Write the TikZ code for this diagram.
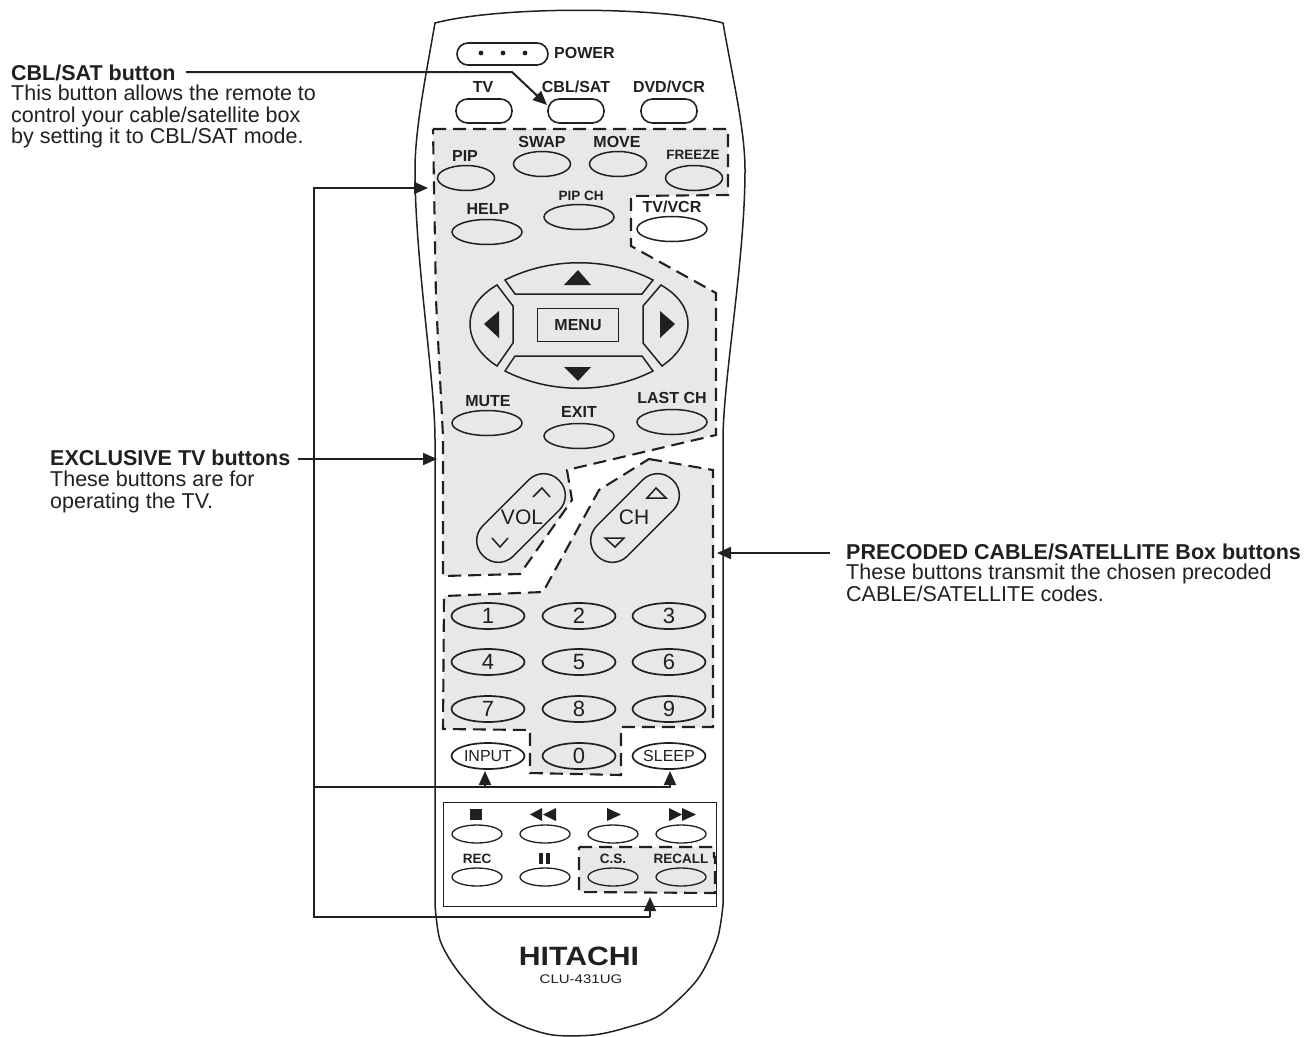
\documentclass[tikz,border=0pt]{standalone}
\usepackage{fontspec}
\setmainfont{Liberation Sans}
\usetikzlibrary{arrows.meta,shapes.geometric}
\definecolor{zonegrey}{HTML}{E7E8E9}
\definecolor{inkblack}{HTML}{231F20}

\begin{document}
\begin{tikzpicture}[
  x=1pt, y=-1pt, color=inkblack,
  zone/.style={fill=zonegrey},
  zoneline/.style={line width=2.1pt, dash pattern=on 13pt off 7pt},
  btn/.style={ellipse, draw, line width=1.5pt, inner sep=0pt, minimum width=70pt, minimum height=25pt},
  smallbtn/.style={btn, line width=1.3pt, minimum width=50pt, minimum height=18pt},
  numbtn/.style={btn, line width=1.7pt, minimum width=73pt, minimum height=26pt, font=\fontsize{22}{22}\selectfont},
  wordbtn/.style={numbtn, font=\fontsize{16}{16}\selectfont},
  topbtn/.style={rectangle, draw, line width=1.6pt, rounded corners=11.5pt, minimum width=56pt, minimum height=24pt, inner sep=0pt},
  stickbtn/.style={rectangle, draw, line width=1.5pt, rounded corners=21pt, minimum width=107pt, minimum height=43pt, rotate=45},
  lbl/.style={font=\fontsize{16}{16}\selectfont\bfseries, inner sep=0pt},
  tinylbl/.style={font=\fontsize{13.5}{13.5}\selectfont\bfseries, inner sep=0pt},
  sticklbl/.style={font=\fontsize{21}{21}\selectfont, inner sep=0pt},
  heading/.style={font=\fontsize{21.5}{21.5}\selectfont\bfseries, inner sep=0pt, anchor=base west},
  para/.style={font=\fontsize{21.5}{21.5}\selectfont, inner sep=0pt, anchor=north west, align=left},
  arr/.style={line width=2pt, -{Triangle[length=14pt,width=12pt]}},
  glyph/.style={fill, draw=none},
  outl/.style={line width=1.5pt},
]
\useasboundingbox (0,0) rectangle (1316,1036);

% Remote body
\draw[line width=1.5pt] (435,23) .. controls (500,6) and (658,6) .. (723,23)
  .. controls (733,80) and (745,130) .. (745,170)
  .. controls (745,260) and (723,380) .. (723,440) -- (723,905)
  -- plot[smooth] coordinates {(723,905) (717,940) (697,980) (660,1015) (625,1028) (593,1035) (553,1035) (520,1025) (490,1007) (457,970) (440,940) (435,905)}
  -- (435,440) .. controls (435,380) and (415,260) .. (415,170)
  .. controls (415,130) and (425,80) .. (435,23) -- cycle;

% Shaded zones
\fill[zone] (433,129) -- (728,129) -- (728,195) -- (631,196) -- (631,246) -- (716,293) -- (716,435)
  -- (567,470) -- (572,500) -- (520,574) -- (443,576) -- (443,437) -- (436,300) -- cycle;
\fill[zone] (649,459) -- (713,470) -- (713,727) -- (621,727) -- (621,775) -- (530,773) -- (530,730)
  -- (443,729) -- (444,596) -- (543,592) -- (599,490) -- cycle;
\fill[zone] (579,847) -- (714,847) -- (715,893) -- (579,892) -- cycle;
\draw[zoneline] (433,129) -- (728,129) -- (728,195) -- (631,196) -- (631,246) -- (716,293) -- (716,435)
  -- (567,470) -- (572,500) -- (520,574) -- (443,576) -- (443,437) -- (436,300) -- cycle;
\draw[zoneline] (649,459) -- (713,470) -- (713,727) -- (621,727) -- (621,775) -- (530,773) -- (530,730)
  -- (443,729) -- (444,596) -- (543,592) -- (599,490) -- cycle;
\draw[zoneline] (579,847) -- (714,847) -- (714,857) -- (715,857) -- (715,893) -- (579,892) -- cycle;

% Top row
\node[rectangle, draw, line width=1.6pt, rounded corners=11pt, minimum width=91pt, minimum height=22pt, inner sep=0pt] (powerbtn) at (502.5,54) {};
\foreach \x in {481,503,525} \fill (\x,53) circle (2.4pt);
\node[lbl, anchor=west] (powerlbl) at (554,53) {POWER};
\node[lbl] (tvlbl) at (483,87) {TV};
\node[lbl] (cbllbl) at (576,87) {CBL/SAT};
\node[lbl] (dvdlbl) at (669,87) {DVD/VCR};
\node[topbtn] (tvbtn) at (484,111) {};
\node[topbtn] (cblbtn) at (576,111) {};
\node[topbtn] (dvdbtn) at (669,111) {};

% Upper buttons
\node[btn, minimum width=57pt] (pipbtn) at (466,178) {};
\node[btn, minimum width=57pt] (swapbtn) at (542,164) {};
\node[btn, minimum width=57pt] (movebtn) at (618,164) {};
\node[btn, minimum width=57pt] (freezebtn) at (694,178) {};
\node[btn] (helpbtn) at (487,232) {};
\node[btn] (pipchbtn) at (579,217) {};
\node[btn] (tvvcrbtn) at (672,229) {};
\node[lbl] (piplbl) at (465,156) {PIP};
\node[lbl] (swaplbl) at (542,142) {SWAP};
\node[lbl] (movelbl) at (617,142) {MOVE};
\node[tinylbl] (freezelbl) at (693,155) {FREEZE};
\node[lbl] (helplbl) at (488,209) {HELP};
\node[tinylbl] (pipchlbl) at (581,196) {PIP CH};
\node[lbl] (tvvcrlbl) at (672,207) {TV/VCR};

% Cursor pad
\draw[outl] (505,280) .. controls (550,257) and (608,257) .. (653,280) -- (642,294) -- (515,294) -- cycle;
\draw[outl] (505,371) .. controls (550,394) and (608,394) .. (653,371) -- (642,356) -- (515,356) -- cycle;
\draw[outl] (497,285) .. controls (480,295) and (470,308) .. (470,324) .. controls (470,340) and (480,355) .. (497,366)
  -- (513,343) -- (513,306) -- cycle;
\draw[outl] (661,285) .. controls (678,295) and (688,308) .. (688,324) .. controls (688,340) and (678,355) .. (662,366)
  -- (643,343) -- (643,306) -- cycle;
\fill[glyph] (564,285) -- (591,285) -- (578,270) -- cycle;
\fill[glyph] (564,367) -- (591,367) -- (578,381) -- cycle;
\fill[glyph] (499,311) -- (499,338) -- (484,324) -- cycle;
\fill[glyph] (660,311) -- (660,338) -- (675,324) -- cycle;
\node[rectangle, draw, line width=1.5pt, minimum width=81pt, minimum height=33pt, inner sep=0pt, lbl] (menubtn) at (578,325) {MENU};

% Mute row
\node[btn] (mutebtn) at (487,423) {};
\node[btn] (exitbtn) at (579,436) {};
\node[btn] (lastbtn) at (672,422) {};
\node[lbl] (mutelbl) at (488,401) {MUTE};
\node[lbl] (exitlbl) at (579,412) {EXIT};
\node[lbl] (lastlbl) at (672,398) {LAST CH};

% VOL and CH
\node[stickbtn] (volbtn) at (521,518) {};
\node[stickbtn] (chbtn) at (635,518) {};
\node[sticklbl] (vollbl) at (522,517) {VOL};
\node[sticklbl] (chlbl) at (634,517) {CH};
\draw[outl] (533,497) -- (542,488) -- (550,497);
\draw[outl] (492,538) -- (500,547) -- (508,538);
\draw[outl] (647,498) -- (666,498) -- (656,488) -- cycle;
\draw[outl] (605,538) -- (624,538) -- (615,547) -- cycle;

% Number pad
\foreach \n/\x/\y in {1/488/616, 2/579/616, 3/669/616, 4/488/662, 5/579/662, 6/669/662, 7/488/709, 8/579/709, 9/669/709, 0/579/756}
  \node[numbtn] (num\n) at (\x,\y) {\n};
\node[wordbtn] (inputbtn) at (488,756) {INPUT};
\node[wordbtn] (sleepbtn) at (669,756) {SLEEP};

% VCR block
\node[rectangle, draw, line width=1pt, minimum width=273pt, minimum height=104pt, inner sep=0pt] (vcrbox) at (579.5,854) {};
\foreach \x/\y/\name in {477/834/stop, 545/834/rew, 613/834/play, 681/834/ff, 477/877/rec, 545/877/pause, 613/877/cs, 681/877/recall}
  \node[smallbtn] (\name btn) at (\x,\y) {};
\fill[glyph] (470,809) rectangle (482,820);
\fill[glyph] (542,808) -- (542,821) -- (530,814.5) -- cycle;
\fill[glyph] (556,808) -- (556,821) -- (543,814.5) -- cycle;
\fill[glyph] (607,808) -- (607,821) -- (621,814.5) -- cycle;
\fill[glyph] (669,808) -- (669,821) -- (682,814.5) -- cycle;
\fill[glyph] (682,808) -- (682,821) -- (696,814.5) -- cycle;
\fill[glyph] (539,853) rectangle (543,864);
\fill[glyph] (546,853) rectangle (550,864);
\node[tinylbl] (reclbl) at (477,859) {REC};
\node[tinylbl] (cslbl) at (613,859) {C.S.};
\node[tinylbl] (recalllbl) at (681,859) {RECALL};

% Maker and model
\node[inner sep=0pt, xscale=1.14, font=\fontsize{26.5}{26.5}\selectfont\bfseries] (maker) at (579,956) {HITACHI};
\node[inner sep=0pt, xscale=1.2, font=\fontsize{12.5}{12.5}\selectfont] (model) at (581,979) {CLU-431UG};

% Captions
\node[heading] (cblhead) at (11,80) {CBL/SAT button};
\node[para] (cbltext) at (11,85) {This button allows the remote to\\control your cable/satellite box\\by setting it to CBL/SAT mode.};
\node[heading] (tvhead) at (50,465) {EXCLUSIVE TV buttons};
\node[para] (tvtext) at (50,471) {These buttons are for\\operating the TV.};
\node[heading] (boxhead) at (846,559) {PRECODED CABLE/SATELLITE Box buttons};
\node[para] (boxtext) at (846,564) {These buttons transmit the chosen precoded\\CABLE/SATELLITE codes.};

% Connectors
\coordinate (cblfoot) at (186,72);
\coordinate (cblbend) at (512,72);
\coordinate (cbltip) at (547,105);
\coordinate (tvfoot) at (298,459);
\coordinate (tvtip) at (437,459);
\coordinate (boxfoot) at (830,553);
\coordinate (boxtip) at (717,553);
\coordinate (frametip) at (428,188);
\coordinate (frametl) at (314,188);
\coordinate (framebl) at (314,917);
\coordinate (framebr) at (650,917);
\coordinate (cstip) at (650,897);
\coordinate (midl) at (314,787);
\coordinate (midr) at (670,787);
\coordinate (sleeptip) at (670,771);
\coordinate (inputfoot) at (485,787);
\coordinate (inputtip) at (485,771);
\draw[arr] (cblfoot) -- (cblbend) -- (cbltip);
\draw[arr] (tvfoot) -- (tvtip);
\draw[arr] (boxfoot) -- (boxtip);
\draw[arr] (framebr) -- (framebl) -- (frametl) -- (frametip);
\draw[arr] (framebr) -- (cstip);
\draw[arr] (midl) -- (midr) -- (sleeptip);
\draw[arr] (inputfoot) -- (inputtip);
\end{tikzpicture}
\end{document}
